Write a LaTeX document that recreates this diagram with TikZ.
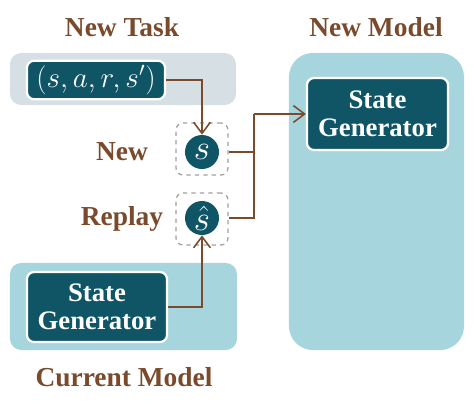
\documentclass[tikz,border=0pt]{standalone}
\usepackage{amsmath}
\usepackage{fontspec}
\setmainfont{Liberation Serif}
\usetikzlibrary{arrows.meta}
\definecolor{darkteal}{HTML}{0F5566}
\definecolor{lightteal}{HTML}{A6D5DD}
\definecolor{paleGray}{HTML}{D6E0E4}
\definecolor{brownish}{HTML}{7A4A2C}
\begin{document}
\begin{tikzpicture}[
x=0.025cm,
y=-0.025cm,
title/.style={text=brownish, font=\fontsize{19.5}{22}\selectfont\bfseries},
bgbox/.style={rectangle, rounded corners=8pt, inner sep=0pt},
genbox/.style={rectangle, rounded corners=5pt, draw=white, line width=1.6pt, fill=darkteal, text=white, align=center, font=\fontsize{19}{20}\selectfont\bfseries},
statenode/.style={circle, fill=darkteal, text=white, minimum size=0.85cm, inner sep=0pt, font=\fontsize{23}{23}\selectfont},
dashbox/.style={rectangle, rounded corners=5pt, draw=gray!75, dashed, line width=0.9pt, minimum size=1.3cm},
flow/.style={draw=brownish, line width=1.1pt},
]
\useasboundingbox (0,0) rectangle (474,404);
% backgrounds
\node[bgbox, fill=paleGray, minimum width=5.65cm, minimum height=1.3cm] (taskbg) at (123,79) {};
\node[bgbox, fill=lightteal, rounded corners=17pt, minimum width=4.375cm, minimum height=7.425cm] (newbg) at (376.5,201.5) {};
\node[bgbox, fill=lightteal, minimum width=5.675cm, minimum height=2.175cm] (curbg) at (123.5,306.5) {};
% titles
\node[title] (tasktitle) at (122,27) {New Task};
\node[title] (newtitle) at (376,27) {New Model};
\node[title] (curtitle) at (124,377) {Current Model};
\node[title] (newlabel) at (122,152) {New};
\node[title] (replaylabel) at (122,219) {Replay};
% boxes
\node[genbox, minimum width=3.45cm, minimum height=0.85cm, font=\fontsize{20}{20}\selectfont] (tuple) at (96,80) {\((s,a,r,s')\)};
\node[genbox, minimum width=3.525cm, minimum height=1.8cm] (newgen) at (377.5,114) {State\\Generator};
\node[genbox, minimum width=3.5cm, minimum height=1.75cm] (curgen) at (97,307) {State\\Generator};
% states
\node[dashbox] (newbox) at (202,149) {};
\node[dashbox] (replaybox) at (202,219) {};
\node[statenode] (snew) at (202,152) {\(s\)};
\node[statenode] (sreplay) at (202,218) {\(\hat{s}\)};
\coordinate (merge) at (254,114);
% connectors
\draw[flow, -{Straight Barb[length=2.8mm, width=4.2mm]}] (tuple.east) -| (snew.north);
\draw[flow, -{Straight Barb[length=2.8mm, width=4.2mm]}] (curgen.east) -| (sreplay.south);
\draw[flow] (newbox.east |- snew) -| (merge);
\draw[flow] (replaybox.east |- sreplay) -| (merge);
\draw[flow, -{Straight Barb[length=2.8mm, width=4.2mm]}] (merge) -- (newgen.west);
\end{tikzpicture}
\end{document}
